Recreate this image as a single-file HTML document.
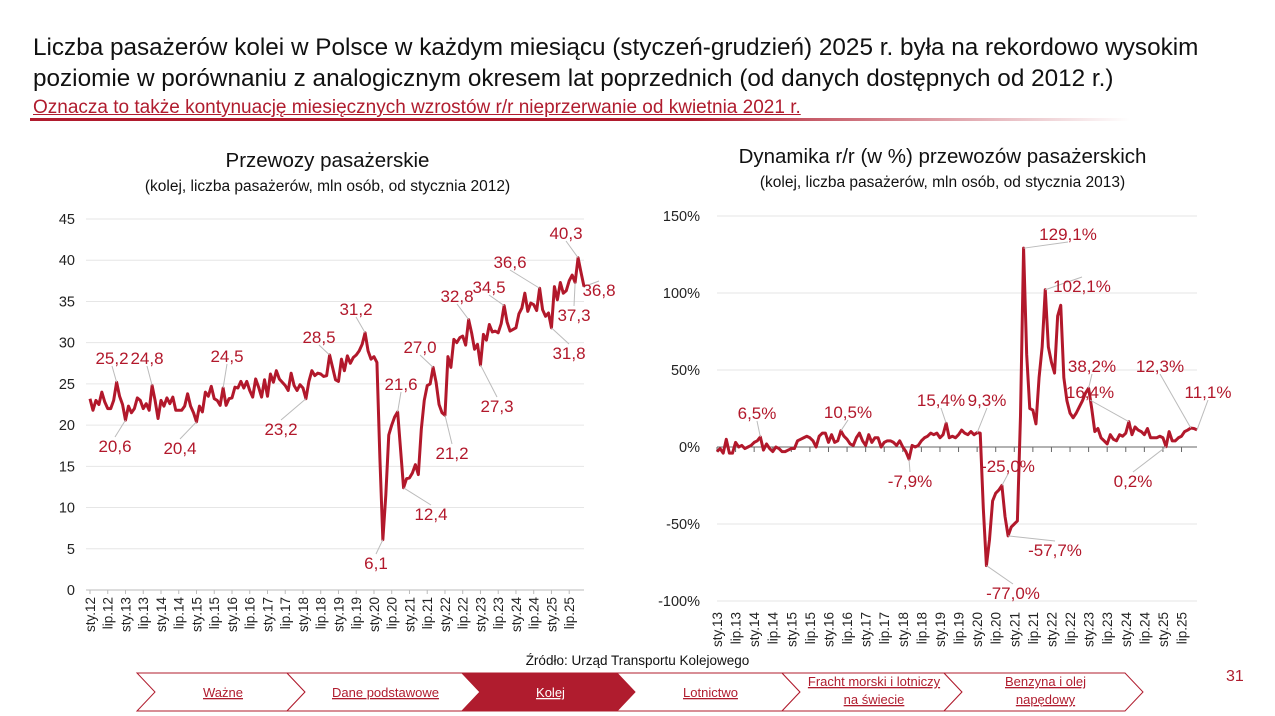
<!DOCTYPE html>
<html><head><meta charset="utf-8">
<style>
body{margin:0;width:1275px;height:716px;background:#fff;overflow:hidden;font-family:"Liberation Sans",sans-serif;position:relative}
.t{position:absolute;white-space:nowrap}
</style></head><body>
<div class="t" style="left:33px;top:32px;font-size:24.3px;color:#111;line-height:31px">Liczba pasażerów kolei w Polsce w każdym miesiącu (styczeń-grudzień) 2025 r. była na rekordowo wysokim<br>poziomie w porównaniu z analogicznym okresem lat poprzednich (od danych dostępnych od 2012 r.)</div>
<div class="t" style="left:33px;top:97px;font-size:19px;color:#b01c2e;text-decoration:underline">Oznacza to także kontynuację miesięcznych wzrostów r/r nieprzerwanie od kwietnia 2021 r.</div>
<div style="position:absolute;left:30px;top:118px;width:1100px;height:3px;background:linear-gradient(90deg,#b01c2e,#b01c2e 60%,rgba(176,28,46,0))"></div>
<div class="t" style="left:0;width:655px;text-align:center;top:149px;font-size:20.5px;color:#111">Przewozy pasażerskie</div>
<div class="t" style="left:0;width:655px;text-align:center;top:178px;font-size:15.5px;color:#111">(kolej, liczba pasażerów, mln osób, od stycznia 2012)</div>
<div class="t" style="left:640px;width:605px;text-align:center;top:145px;font-size:20.5px;color:#111">Dynamika r/r (w %) przewozów pasażerskich</div>
<div class="t" style="left:640px;width:605px;text-align:center;top:174px;font-size:15.5px;color:#111">(kolej, liczba pasażerów, mln osób, od stycznia 2013)</div>
<div class="t" style="left:0;width:1275px;text-align:center;top:653px;font-size:13.5px;color:#111">Źródło: Urząd Transportu Kolejowego</div>
<div class="t" style="left:1226px;top:668px;font-size:16px;color:#b01c2e">31</div>
<svg id="s" width="1275" height="716" style="position:absolute;left:0;top:0" font-family="Liberation Sans, sans-serif"></svg>
<script>
const leftValues=[
23.2,21.8,23.0,22.5,24.0,22.8,22.0,22.0,23.0,25.2,23.5,22.5,
20.6,22.3,21.5,22.0,23.3,23.0,22.0,22.6,21.8,24.8,23.0,20.8,
23.0,22.3,23.3,22.6,23.4,21.8,21.8,21.8,22.3,23.8,22.3,21.5,
20.4,22.3,21.6,24.0,23.5,24.7,23.2,23.0,22.4,24.5,22.4,23.2,
23.3,24.6,24.5,25.3,24.5,25.3,24.2,23.4,25.6,24.6,23.4,25.5,
23.5,26.2,25.2,26.6,25.6,25.2,24.8,24.2,26.3,24.8,24.2,24.9,
24.5,23.2,25.3,26.6,26.0,26.3,26.2,25.9,26.0,28.5,27.0,25.5,
25.3,28.0,26.6,28.4,27.5,28.2,28.5,29.0,29.8,31.2,29.0,28.0,
28.3,27.6,16.0,6.1,11.5,18.8,20.0,21.0,21.6,17.0,12.4,13.5,
13.6,14.2,15.2,14.0,19.5,23.0,24.8,25.0,27.0,25.2,22.5,21.5,
21.2,28.3,27.0,30.4,30.0,30.6,30.8,29.7,32.8,31.2,29.2,29.8,
27.3,31.0,30.3,32.2,31.3,31.4,31.2,32.3,34.5,32.5,31.4,31.6,
31.8,33.5,34.2,36.0,33.8,34.8,34.6,33.9,36.6,34.0,33.2,33.6,
31.8,36.8,35.2,37.3,36.0,36.3,37.5,38.2,37.3,40.3,38.5,36.8];
const leftTicks=[0,5,10,15,20,25,30,35,40,45];
const leftStartYear=12;
const leftLabelIdx=[9,12,21,36,45,73,81,93,99,104,106,116,120,128,132,140,152,156,165,164,167];
const rightValues=[
-3,-1,-4,5,-4,-4,3,0,1,-1,0,1,
3,4,6.5,-2,2,-1,-3,0,-1,-3,-3,-2,
-1,-1,4,5,6,7,6,4,0,7,9,9,
3,8,3,4,10.5,7,5,2,1,6,9,4,
1,8,3,6,6,0,3,4,4,3,1,4,
0,-3,-7.9,1,0,1,4,6,7,9,8,9,
6,8,15.4,6,7,6,8,11,9,8,10,8,
9.3,9,-40,-77,-60,-35,-30,-28,-25,-45,-57.7,-52,
-50,-48,20,129.1,60,25,24,15,45,65,102.1,65,
55,48,85,92,45,30,22,19,22,26,30,35,
38.2,25,10,12,6,4,2,8,5,4,8,7,
9,16.4,8,13,11,10,8,12,6,6,6,7,
6,0.2,10,4,4,6,7,10,11,12.3,12,11.1];
const rightTicks=[-100,-50,0,50,100,150];
const rightStartYear=13;
const rightLabelIdx=[14,40,62,74,84,87,92,94,99,106,120,133,145,153,155];
// label placement (styling)
const leftLabelPos=[[112,364],[115,452],[147,364],[180,454],[227,362],[281,435],[319,343],[356,315],[376,569],[401,390],[431,520],[420,353],[452,459],[457,302],[497,412],[489,293],[510,268],[569,359],[566,239],[574,321],[599,296]];
const rightLabelPos=[[757,419],[848,418],[910,487],[941,406],[987,406],[1013,599],[1008,472],[1055,556],[1068,240],[1082,292],[1092,372],[1090,398],[1133,487],[1160,372],[1208,398]];
const RED='#b2182b';
const svgEl=document.getElementById('s');const NS='http://www.w3.org/2000/svg';
function mk(tag,at,parent){const e=document.createElementNS(NS,tag);for(const k in at)e.setAttribute(k,at[k]);(parent||svgEl).appendChild(e);return e;}
const fmt=v=>v.toFixed(1).replace('.',',');
// LEFT
const lx0=90,lx1=584,ly0=590,ly1=219;
const lX=i=>lx0+i*(lx1-lx0)/(leftValues.length-1);
const lY=v=>ly0-(v-0)*(ly0-ly1)/45;
leftTicks.forEach(t=>{
 const g=mk('line',{x1:lx0-4,x2:lx1,y1:lY(t),y2:lY(t),stroke:t===0?'#bbb':'#e6e6e6','stroke-width':1});
 
 
 const tx=mk('text',{x:75,y:lY(t)+5,'text-anchor':'end','font-size':14.5,fill:'#222'});tx.textContent=t;
 
 
});
for(let i=0;i<leftValues.length;i+=6){
 const x=lX(i);const lab=(i%12===0?'sty.':'lip.')+(leftStartYear+Math.floor(i/12));
 const tx=mk('text',{x:0,y:0,'text-anchor':'end','font-size':13.5,fill:'#222',transform:`translate(${x+5},${597}) rotate(-90)`});tx.textContent=lab;
 
 
 mk('line',{x1:x,x2:x,y1:590,y2:594,stroke:'#bbb'});
}
const lp=mk('polyline',{points:leftValues.map((v,i)=>lX(i)+','+lY(v)).join(' '),fill:'none',stroke:RED,'stroke-width':3,'stroke-linejoin':'round'});


leftLabelIdx.forEach((idx,k)=>{
 const [px,py]=leftLabelPos[k];
 mk('line',{x1:lX(idx),y1:lY(leftValues[idx]),x2:px,y2:py+(py>lY(leftValues[idx])?-15:2),stroke:'#bbb','stroke-width':1});
 const tx=mk('text',{x:px,y:py,'text-anchor':'middle','font-size':17,fill:RED});tx.textContent=fmt(leftValues[idx]);
 
 
});
// RIGHT
const rx0=717,rx1=1197,rzero=447,r150=216;
const rX=i=>rx0+i*(rx1-rx0)/(rightValues.length-1);
const rY=v=>rzero-v*(rzero-r150)/150;
rightTicks.forEach(t=>{
 if(t!==0){const g=mk('line',{x1:rx0,x2:rx1,y1:rY(t),y2:rY(t),stroke:'#e6e6e6'});
 
 }
 const tx=mk('text',{x:700,y:rY(t)+5,'text-anchor':'end','font-size':14.5,fill:'#222'});tx.textContent=t+'%';
 
 
});
mk('line',{x1:rx0,x2:rx1,y1:rzero,y2:rzero,stroke:'#666'});
for(let i=0;i<rightValues.length;i+=6){
 const x=rX(i);const lab=(i%12===0?'sty.':'lip.')+(rightStartYear+Math.floor(i/12));
 mk('line',{x1:x,x2:x,y1:rzero,y2:rzero+5,stroke:'#666'});
 const tx=mk('text',{x:0,y:0,'text-anchor':'end','font-size':13.5,fill:'#222',transform:`translate(${x+5},${612}) rotate(-90)`});tx.textContent=lab;
 
 
}
const rp=mk('polyline',{points:rightValues.map((v,i)=>rX(i)+','+rY(v)).join(' '),fill:'none',stroke:RED,'stroke-width':3,'stroke-linejoin':'round'});


rightLabelIdx.forEach((idx,k)=>{
 const [px,py]=rightLabelPos[k];
 mk('line',{x1:rX(idx),y1:rY(rightValues[idx]),x2:px,y2:py+(py>rY(rightValues[idx])?-15:2),stroke:'#bbb','stroke-width':1});
 const tx=mk('text',{x:px,y:py,'text-anchor':'middle','font-size':17,fill:RED});tx.textContent=fmt(rightValues[idx])+'%';
 
 
});
// NAV
const navB=[137,287,462,617,782,944,1125];
const navT=[['Ważne'],['Dane podstawowe'],['Kolej'],['Lotnictwo'],['Fracht morski i lotniczy','na świecie'],['Benzyna i olej','napędowy']];
const tipW=18,navTop=673,navBot=711,navMid=692;
for(let k=0;k<6;k++){
 const a=navB[k],b=navB[k+1];const act=k===2;
 const poly=mk('polygon',{points:`${a},${navTop} ${b},${navTop} ${b+tipW},${navMid} ${b},${navBot} ${a},${navBot} ${a+tipW},${navMid}`,fill:act?'#b01c2e':'#fff',stroke:'#b01c2e','stroke-width':1});
 
 
 const cx=(a+b)/2+tipW/2+2;const lines=navT[k];
 lines.forEach((t,j)=>{
  const y=lines.length===1?697:686+j*18;
  const tx=mk('text',{x:cx,y:y,'text-anchor':'middle','font-size':13,fill:act?'#fff':'#b01c2e','text-decoration':'underline'});tx.textContent=t;
  
  
 });
}
</script>
</body></html>
